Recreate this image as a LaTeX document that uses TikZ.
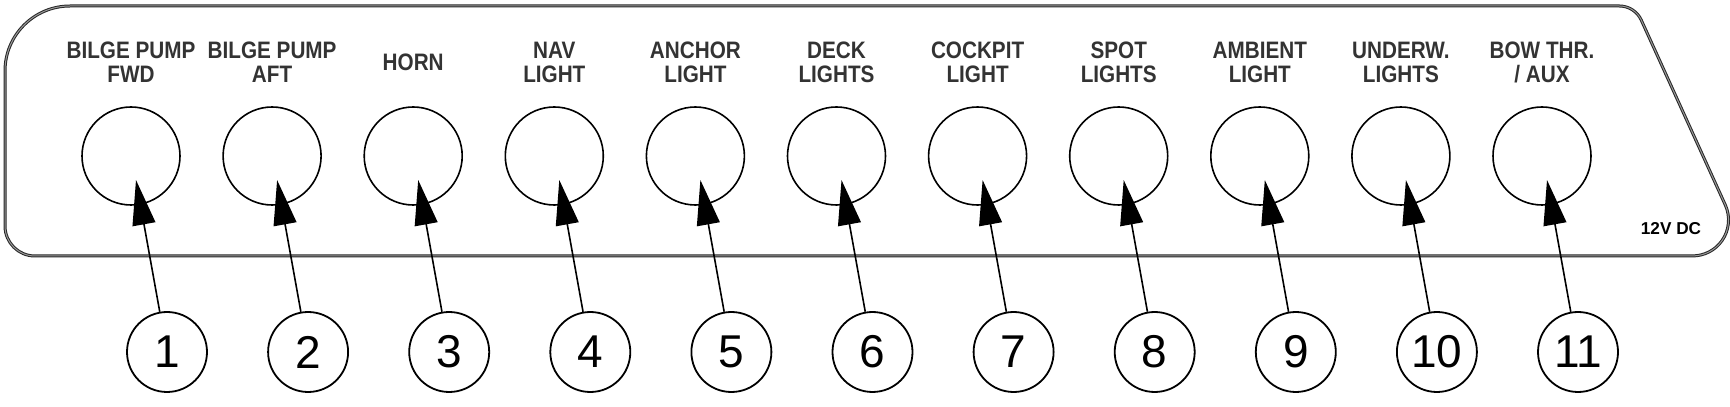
\documentclass[tikz,border=0pt]{standalone}
\usepackage{fontspec}
\setmainfont{Liberation Sans}
\newfontfamily\panelfont{Liberation Sans}[FakeStretch=0.87]
\usetikzlibrary{arrows.meta}
\tikzset{
  hole/.style={circle,draw,line width=0.8pt,minimum size=49pt,inner sep=0pt},
  num/.style={circle,draw,line width=0.9pt,minimum size=40pt,inner sep=0pt,font=\fontsize{23}{23}\selectfont},
  lbl/.style={align=center,text=black!80,font=\panelfont\bfseries\fontsize{11.9}{12}\selectfont},
  pointer/.style={-{Triangle[length=22.5pt,width=11.5pt]},line width=0.8pt},
  panel/.style={draw=black!85,double=black!40,double distance=0.5pt,line width=0.5pt}
}

\begin{document}
\begin{tikzpicture}[x=0.5pt,y=0.5pt]
  \useasboundingbox (0,0) rectangle (1730,407);
  % switch panel outline
  \draw[panel] (5,336) arc[start angle=180,end angle=90,radius=32.5pt]
    -- (1619.4,401) arc[start angle=90,end angle=24.5,radius=12pt]
    -- (1725.3,202) arc[start angle=24.5,end angle=-90,radius=18pt]
    -- (35,151) arc[start angle=270,end angle=180,radius=15pt] -- cycle;

  \foreach \i/\txt in {1/{BILGE PUMP\\FWD},2/{BILGE PUMP\\AFT},3/{HORN},
      4/{NAV\\LIGHT},5/{ANCHOR\\LIGHT},6/{DECK\\LIGHTS},7/{COCKPIT\\LIGHT},
      8/{SPOT\\LIGHTS},9/{AMBIENT\\LIGHT},10/{UNDERW.\\LIGHTS},11/{BOW THR.\\/ AUX}} {
    \node [hole] (h\i) at ({131+141.1*(\i-1)},251) {};
    \node [lbl] (l\i) at ({131+141.1*(\i-1)},345) {\txt};
    \node [num] (n\i) at ({167+141.1*(\i-1)},55) {\i};
    \coordinate (t\i) at ({136+141.1*(\i-1)},227);
    \draw[pointer] (n\i) -- (t\i);
  }

  \node [font=\bfseries\fontsize{8.6}{9}\selectfont] (volt) at (1671,178) {12V DC};
\end{tikzpicture}
\end{document}
